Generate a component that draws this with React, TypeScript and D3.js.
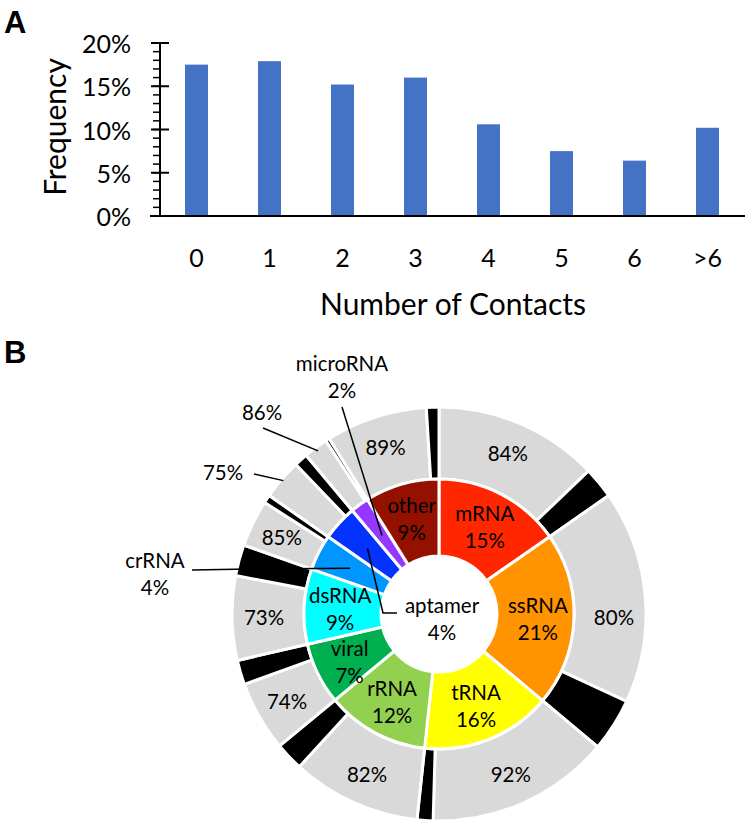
import React from 'react';
import * as d3 from 'd3';

// ---------- Panel A data ----------
const contactCategories = ['0', '1', '2', '3', '4', '5', '6', '>6'];
const contactFrequency = [0.175, 0.179, 0.152, 0.16, 0.106, 0.075, 0.064, 0.102];
const yMajorTicks = [0, 0.05, 0.1, 0.15, 0.2];
const yMinorTicks = d3.range(0, 21).map((d) => d / 100);

// ---------- Panel B data ----------
const rnaTypes = ['mRNA', 'ssRNA', 'tRNA', 'rRNA', 'viral', 'dsRNA', 'crRNA', 'aptamer', 'microRNA', 'other'];
const rnaShare = [15.3, 20.8, 15.6, 12.3, 7.4, 9.0, 4.3, 4.2, 2.2, 8.9];
const rnaShareLabel = ['15%', '21%', '16%', '12%', '7%', '9%', '4%', '4%', '2%', '9%'];
const rnaColors = ['#FF2600', '#FF9300', '#FFFF00', '#92D050', '#00B050', '#00FFFF', '#0096FF', '#0433FF', '#9437FF', '#941100'];
const contactedShare = [84, 80, 92, 82, 74, 73, 85, 75, 86, 89];

const FONT = 'Lato, Calibri, Carlito, "Open Sans", sans-serif';
const BOLD_FONT = '"Liberation Sans", Arial, sans-serif';

export default function App() {
  // ----- Panel A geometry -----
  const axisX = 160;
  const plotRight = 744;
  const y0 = 216;
  const yTop = 43;
  const x = d3
    .scaleBand<string>()
    .domain(contactCategories)
    .range([axisX, plotRight])
    .paddingInner(0.685)
    .paddingOuter(0.3425);
  const y = d3.scaleLinear().domain([0, 0.2]).range([y0, yTop]);
  const pctFmt = d3.format('.0%');

  // ----- Panel B geometry -----
  const cx = 439;
  const cy = 614;
  const rHole = 58;
  const rMid = 135;
  const rOuter = 207;

  const toRad = (deg: number) => (deg * Math.PI) / 180;
  const pie = d3
    .pie<number>()
    .sort(null)
    .value((d) => d);
  const innerArcs = pie(rnaShare);
  const outerValues: { v: number; kind: 'gray' | 'black'; i: number }[] = [];
  rnaShare.forEach((s, i) => {
    outerValues.push({ v: (s * contactedShare[i]) / 100, kind: 'gray', i });
    outerValues.push({ v: (s * (100 - contactedShare[i])) / 100, kind: 'black', i });
  });
  const outerPie = d3
    .pie<{ v: number; kind: string; i: number }>()
    .sort(null)
    .value((d) => d.v);
  const outerArcs = outerPie(outerValues);

  const innerArc = d3.arc<any>().innerRadius(rHole).outerRadius(rMid);
  const outerArc = d3.arc<any>().innerRadius(rMid).outerRadius(rOuter);

  const polar = (angle: number, r: number): [number, number] => [
    cx + r * Math.sin(angle),
    cy - r * Math.cos(angle),
  ];
  const midAngle = (a: { startAngle: number; endAngle: number }) => (a.startAngle + a.endAngle) / 2;

  const innerInside = ['mRNA', 'ssRNA', 'tRNA', 'rRNA', 'viral', 'dsRNA', 'other'];
  const innerLabelRadius: Record<string, number> = { viral: 101 };
  const innerLabelShift: Record<string, number> = { viral: -1.5 };
  const outerExternal = ['aptamer', 'microRNA'];
  const outerLabelShift: Record<string, number> = { ssRNA: 6 };

  const grayArcOf = (name: string) => outerArcs.find((a) => a.data.kind === 'gray' && rnaTypes[a.data.i] === name)!;
  const innerArcOf = (name: string) => innerArcs[rnaTypes.indexOf(name)];

  // leader line targets
  const microIn = polar(midAngle(innerArcOf('microRNA')), 97);
  const aptIn = polar(midAngle(innerArcOf('aptamer')), 97);
  const crIn = polar(midAngle(innerArcOf('crRNA')), 100);
  const microOut = polar(midAngle(grayArcOf('microRNA')), 203);
  const aptOut = polar(midAngle(grayArcOf('aptamer')), 205);

  const pieFont = 20.5;

  return (
    <svg
      width={748}
      height={826}
      style={{ position: 'absolute', left: 0, top: 0, background: '#fff' }}
      fontFamily={FONT}
    >
      <rect x={0} y={0} width={748} height={826} fill="#fff" />
      {/* ---------------- Panel A ---------------- */}
      <text x={4} y={33} fontSize={31} fontWeight={900} fontFamily={BOLD_FONT} fill="#000">A</text>

      {contactFrequency.map((v, i) => (
        <rect
          key={i}
          x={x(contactCategories[i])!}
          y={y(v)}
          width={x.bandwidth()}
          height={y0 - y(v)}
          fill="#4472C4"
        />
      ))}

      {/* y axis */}
      <line x1={axisX} x2={axisX} y1={yTop} y2={y0} stroke="#000" strokeWidth={2} />
      {yMinorTicks.map((t) => (
        <line key={'m' + t} x1={axisX - 7} x2={axisX} y1={y(t)} y2={y(t)} stroke="#000" strokeWidth={1.5} />
      ))}
      {yMajorTicks.map((t) => (
        <g key={'M' + t}>
          <line x1={axisX - 9} x2={axisX + 9} y1={y(t)} y2={y(t)} stroke="#000" strokeWidth={2} />
          <text x={131} y={y(t)} textAnchor="end" dominantBaseline="central" fontSize={25} fill="#000">
            {pctFmt(t)}
          </text>
        </g>
      ))}
      {/* x axis */}
      <line x1={150} x2={745} y1={y0} y2={y0} stroke="#000" strokeWidth={2} />
      {contactCategories.map((c) => (
        <text
          key={c}
          x={x(c)! + x.bandwidth() / 2}
          y={257}
          textAnchor="middle"
          dominantBaseline="central"
          fontSize={25}
          fill="#000"
        >
          {c}
        </text>
      ))}
      <text x={453} y={303} textAnchor="middle" dominantBaseline="central" fontSize={30} fill="#000">
        Number of Contacts
      </text>
      <text
        transform="translate(54,127) rotate(-90)"
        textAnchor="middle"
        dominantBaseline="central"
        fontSize={30}
        fill="#000"
      >
        Frequency
      </text>

      {/* ---------------- Panel B ---------------- */}
      <text x={4} y={363} fontSize={31} fontWeight={900} fontFamily={BOLD_FONT} fill="#000">B</text>

      <g transform={`translate(${cx},${cy})`}>
        {outerArcs.map((a, k) => (
          <path
            key={'o' + k}
            d={outerArc(a)!}
            fill={a.data.kind === 'gray' ? '#D9D9D9' : '#000'}
            stroke="#fff"
            strokeWidth={3}
            strokeLinejoin="round"
          />
        ))}
        {innerArcs.map((a, i) => (
          <path key={'i' + i} d={innerArc(a)!} fill={rnaColors[i]} stroke="#fff" strokeWidth={3} strokeLinejoin="round" />
        ))}
      </g>

      {/* inner labels */}
      {innerArcs.map((a, i) => {
        const name = rnaTypes[i];
        if (!innerInside.includes(name)) return null;
        const [lx, ly] = polar(midAngle(a) + toRad(innerLabelShift[name] || 0), innerLabelRadius[name] || 99);
        return (
          <g key={'il' + i} fontSize={pieFont} fill="#000" textAnchor="middle">
            <text x={lx} y={ly - 13.5} dominantBaseline="central">{name}</text>
            <text x={lx} y={ly + 13.5} dominantBaseline="central">{rnaShareLabel[i]}</text>
          </g>
        );
      })}

      {/* outer labels */}
      {outerArcs.map((a, k) => {
        if (a.data.kind !== 'gray') return null;
        const name = rnaTypes[a.data.i];
        if (outerExternal.includes(name)) return null;
        const ang = midAngle(a) + toRad(outerLabelShift[name] || 0);
        const [lx, ly] = polar(ang, 175);
        return (
          <text key={'ol' + k} x={lx} y={ly} textAnchor="middle" dominantBaseline="central" fontSize={pieFont} fill="#000">
            {contactedShare[a.data.i]}%
          </text>
        );
      })}

      {/* external labels with leader lines */}
      <g fontSize={pieFont} fill="#000" textAnchor="middle">
        <text x={342} y={363} dominantBaseline="central">microRNA</text>
        <text x={342} y={390} dominantBaseline="central">{rnaShareLabel[8]}</text>
        <text x={262} y={412} dominantBaseline="central">{contactedShare[8]}%</text>
        <text x={223} y={472} dominantBaseline="central">{contactedShare[7]}%</text>
        <text x={155} y={560} dominantBaseline="central">crRNA</text>
        <text x={155} y={587} dominantBaseline="central">{rnaShareLabel[6]}</text>
        <text x={442} y={605} dominantBaseline="central">aptamer</text>
        <text x={442} y={632} dominantBaseline="central">{rnaShareLabel[7]}</text>
      </g>
      <g stroke="#000" strokeWidth={1.5} fill="none">
        <line x1={342} y1={407} x2={microIn[0]} y2={microIn[1]} />
        <line x1={263} y1={428} x2={microOut[0]} y2={microOut[1]} />
        <line x1={254} y1={474} x2={aptOut[0]} y2={aptOut[1]} />
        <polyline points={`192,570 250,569 ${crIn[0]},${crIn[1]}`} />
        <polyline points={`${aptIn[0]},${aptIn[1]} 383,613 397,613`} />
      </g>
    </svg>
  );
}
